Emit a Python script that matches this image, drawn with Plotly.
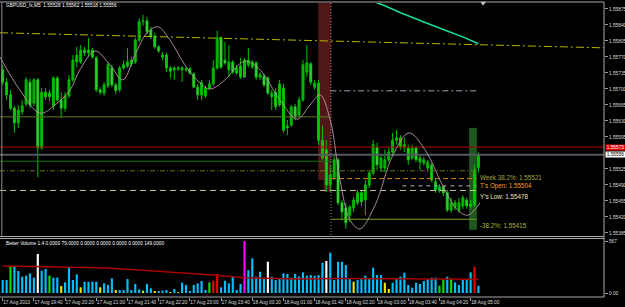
import plotly.graph_objects as go

# ---------------- data ----------------
bars = list(range(123))  # M5 bars from 17 Aug 19:00 to 18 Aug 05:10

time_label_bars = [0, 8, 16, 24, 32, 40, 48, 56, 64, 72, 80, 88, 96, 104, 112, 120]
time_labels = ["17 Aug 2010", "17 Aug 19:40", "17 Aug 20:20", "17 Aug 21:00", "17 Aug 21:40",
               "17 Aug 22:20", "17 Aug 23:00", "17 Aug 23:40", "18 Aug 00:20", "18 Aug 01:00",
               "18 Aug 01:40", "18 Aug 02:20", "18 Aug 03:00", "18 Aug 03:40", "18 Aug 04:20",
               "18 Aug 05:00"]

price_ticks = [1.55385, 1.55420, 1.55455, 1.55490, 1.55525, 1.55595, 1.55630, 1.55665,
               1.55700, 1.55735, 1.55770, 1.55805, 1.55840, 1.55875]

open_p = [1.55742, 1.55715, 1.55687, 1.55658, 1.55626, 1.55650, 1.55667, 1.55715, 1.55669, 1.55720,
          1.55571, 1.55693, 1.55683, 1.55663, 1.55724, 1.55676, 1.55658, 1.55685, 1.55720, 1.55759,
          1.55759, 1.55785, 1.55779, 1.55785, 1.55768, 1.55698, 1.55691, 1.55707, 1.55746, 1.55709,
          1.55698, 1.55746, 1.55750, 1.55755, 1.55759, 1.55807, 1.55847, 1.55849, 1.55829, 1.55816,
          1.55792, 1.55770, 1.55774, 1.55746, 1.55742, 1.55746, 1.55742, 1.55742, 1.55744, 1.55733,
          1.55704, 1.55687, 1.55685, 1.55702, 1.55711, 1.55746, 1.55812, 1.55763, 1.55742, 1.55759,
          1.55735, 1.55750, 1.55726, 1.55753, 1.55748, 1.55757, 1.55726, 1.55728, 1.55724, 1.55683,
          1.55693, 1.55665, 1.55702, 1.55615, 1.55621, 1.55661, 1.55643, 1.55676, 1.55737, 1.55755,
          1.55704, 1.55713, 1.55588, 1.55567, 1.55490, 1.55507, 1.55545, 1.55451, 1.55440, 1.55424,
          1.55440, 1.55451, 1.55473, 1.55457, 1.55490, 1.55516, 1.55573, 1.55527, 1.55527, 1.55545,
          1.55562, 1.55588, 1.55593, 1.55573, 1.55571, 1.55549, 1.55571, 1.55540, 1.55538, 1.55527,
          1.55534, 1.55497, 1.55477, 1.55486, 1.55473, 1.55435, 1.55442, 1.55435, 1.55444, 1.55457,
          1.55448, 1.55446, 1.55528]
high_p = [1.55753, 1.55724, 1.55698, 1.55663, 1.55665, 1.55676, 1.55726, 1.55722, 1.55724, 1.55724,
          1.55702, 1.55702, 1.55698, 1.55728, 1.55728, 1.55693, 1.55693, 1.55731, 1.55774, 1.55792,
          1.55796, 1.55792, 1.55812, 1.55790, 1.55772, 1.55704, 1.55715, 1.55759, 1.55753, 1.55713,
          1.55750, 1.55763, 1.55790, 1.55770, 1.55812, 1.55855, 1.55862, 1.55858, 1.55836, 1.55823,
          1.55796, 1.55781, 1.55779, 1.55750, 1.55750, 1.55750, 1.55750, 1.55748, 1.55748, 1.55737,
          1.55711, 1.55720, 1.55707, 1.55720, 1.55763, 1.55827, 1.55816, 1.55803, 1.55796, 1.55763,
          1.55753, 1.55768, 1.55768, 1.55790, 1.55763, 1.55761, 1.55737, 1.55733, 1.55728, 1.55698,
          1.55702, 1.55720, 1.55711, 1.55632, 1.55665, 1.55667, 1.55683, 1.55763, 1.55796, 1.55759,
          1.55720, 1.55720, 1.55621, 1.55588, 1.55534, 1.55556, 1.55549, 1.55457, 1.55451, 1.55446,
          1.55464, 1.55479, 1.55479, 1.55501, 1.55523, 1.55588, 1.55582, 1.55556, 1.55567, 1.55571,
          1.55604, 1.55610, 1.55599, 1.55593, 1.55578, 1.55578, 1.55575, 1.55556, 1.55551, 1.55545,
          1.55538, 1.55505, 1.55492, 1.55490, 1.55479, 1.55462, 1.55457, 1.55462, 1.55468, 1.55462,
          1.55457, 1.55534, 1.55562]
low_p = [1.55709, 1.55676, 1.55654, 1.55604, 1.55615, 1.55643, 1.55663, 1.55658, 1.55663, 1.55507,
         1.55567, 1.55676, 1.55674, 1.55654, 1.55672, 1.55637, 1.55650, 1.55680, 1.55715, 1.55748,
         1.55755, 1.55772, 1.55770, 1.55766, 1.55693, 1.55687, 1.55685, 1.55702, 1.55704, 1.55689,
         1.55693, 1.55742, 1.55746, 1.55748, 1.55755, 1.55803, 1.55838, 1.55820, 1.55809, 1.55788,
         1.55779, 1.55763, 1.55737, 1.55724, 1.55720, 1.55739, 1.55715, 1.55737, 1.55731, 1.55702,
         1.55676, 1.55676, 1.55680, 1.55698, 1.55707, 1.55742, 1.55744, 1.55753, 1.55726, 1.55733,
         1.55731, 1.55722, 1.55724, 1.55748, 1.55744, 1.55720, 1.55720, 1.55704, 1.55687, 1.55654,
         1.55654, 1.55661, 1.55604, 1.55599, 1.55617, 1.55632, 1.55639, 1.55672, 1.55726, 1.55709,
         1.55698, 1.55578, 1.55545, 1.55475, 1.55475, 1.55501, 1.55446, 1.55413, 1.55394, 1.55409,
         1.55431, 1.55446, 1.55444, 1.55424, 1.55483, 1.55512, 1.55523, 1.55518, 1.55518, 1.55540,
         1.55558, 1.55578, 1.55567, 1.55562, 1.55534, 1.55545, 1.55540, 1.55523, 1.55532, 1.55518,
         1.55497, 1.55473, 1.55473, 1.55466, 1.55431, 1.55429, 1.55435, 1.55429, 1.55438, 1.55438,
         1.55438, 1.55442, 1.55518]
close_p = [1.55715, 1.55687, 1.55658, 1.55626, 1.55654, 1.55663, 1.55720, 1.55665, 1.55720, 1.55571,
           1.55693, 1.55683, 1.55691, 1.55724, 1.55676, 1.55658, 1.55685, 1.55720, 1.55763, 1.55774,
           1.55785, 1.55779, 1.55785, 1.55770, 1.55698, 1.55693, 1.55709, 1.55753, 1.55709, 1.55696,
           1.55746, 1.55753, 1.55759, 1.55763, 1.55807, 1.55847, 1.55849, 1.55825, 1.55814, 1.55792,
           1.55783, 1.55774, 1.55746, 1.55739, 1.55746, 1.55744, 1.55746, 1.55744, 1.55735, 1.55704,
           1.55687, 1.55715, 1.55702, 1.55711, 1.55746, 1.55812, 1.55748, 1.55757, 1.55759, 1.55737,
           1.55746, 1.55726, 1.55763, 1.55763, 1.55759, 1.55726, 1.55731, 1.55709, 1.55691, 1.55691,
           1.55661, 1.55711, 1.55610, 1.55619, 1.55661, 1.55639, 1.55676, 1.55753, 1.55757, 1.55715,
           1.55713, 1.55588, 1.55549, 1.55490, 1.55512, 1.55545, 1.55451, 1.55431, 1.55407, 1.55442,
           1.55457, 1.55473, 1.55453, 1.55490, 1.55516, 1.55578, 1.55534, 1.55549, 1.55545, 1.55562,
           1.55588, 1.55593, 1.55573, 1.55578, 1.55545, 1.55571, 1.55545, 1.55549, 1.55545, 1.55540,
           1.55501, 1.55479, 1.55486, 1.55473, 1.55435, 1.55451, 1.55451, 1.55451, 1.55462, 1.55444,
           1.55444, 1.55523, 1.55556]

volume = [142, 142, 287, 284, 240, 178, 189, 214, 167, 425,
          243, 262, 189, 167, 167, 76, 116, 287, 142, 203,
          62, 123, 123, 123, 123, 62, 105, 87, 160, 33,
          33, 33, 153, 33, 98, 40, 25, 98, 51, 15,
          15, 25, 33, 7, 44, 5, 112, 87, 11, 87,
          105, 131, 33, 116, 134, 207, 62, 134, 105, 185,
          33, 98, 567, 250, 378, 178, 232, 160, 341, 178,
          142, 153, 214, 207, 167, 207, 180, 225, 189, 196,
          189, 196, 330, 349, 439, 142, 341, 341, 305, 160,
          123, 142, 160, 189, 160, 276, 196, 196, 112, 44,
          112, 153, 178, 221, 87, 58, 112, 98, 131, 153,
          167, 167, 80, 142, 178, 160, 116, 87, 142, 142,
          225, 287, 79]
# Better Volume bar class: c=normal, y=low, w=climax, g=churn, r=climax up, m=climax churn
volume_class = list("ccgccccccw" "ccgccycccc" "yccccycccy" "ccccccyccy" "cccycycccc"
                    "cccgrrcccc" "ccmcccccwc" "cccccccccc" "cccwcccccc" "ycccccccyy"
                    "cccccccccc" "ccggcgcccc" "crc")

vol_ma_bars = [0, 17, 25, 35, 45, 54, 62, 76, 85, 100, 110, 122]
vol_ma = [294, 287, 276, 251, 225, 196, 167, 153, 158, 152, 149, 149]

curve_bars = [-0.7, 4.4, 9.6, 13.4, 17.3, 19.8, 23.7, 27.5, 30.8, 33.9, 37.0, 39.8, 42.9, 46.7,
              50.6, 53.2, 57.0, 60.8, 62.6, 66.0, 71.1, 75.5, 78.8, 81.4, 84.0, 86.5, 89.1,
              91.6, 95.5, 100.1, 104.2, 108.3, 113.4, 116.7, 119.3, 122.4]
curve_price = [1.55770, 1.55698, 1.55647, 1.55665, 1.55698, 1.55742, 1.55783, 1.55753, 1.55720,
               1.55774, 1.55823, 1.55836, 1.55807, 1.55753, 1.55713, 1.55700, 1.55720, 1.55755,
               1.55761, 1.55742, 1.55676, 1.55634, 1.55665, 1.55687, 1.55632, 1.55501, 1.55413,
               1.55394, 1.55446, 1.55556, 1.55604, 1.55567, 1.55479, 1.55435, 1.55424, 1.55451]

ma_bars = [94, 98, 102, 106, 110, 114, 118, 122]
ma_price = [1.55895, 1.55882, 1.55867, 1.55853, 1.55840, 1.55827, 1.55814, 1.55799]

trend_bars = [-0.69, 154.2]
trend_price = [1.55823, 1.55790]

ask_price = 1.55573
bid_price = 1.55556
olive_level = 1.55639
green_level = 1.55542
gray_level = 1.55696
week_382 = 1.55521
t_open = 1.55504
lavender_level = 1.55488
y_low = 1.55478
neg_382 = 1.55415
red_box_low = 1.55501
red_box_low2 = 1.55475
green_box = [1.55392, 1.55615]

assert len(open_p) == len(high_p) == len(low_p) == len(close_p) == len(volume) == len(volume_class) == 123

# ---------------- figure ----------------
XR = [-0.69, 154.2]
YR = [1.553806, 1.558881]
FONT = "Liberation Sans"
WICK = "#00c000"

fig = go.Figure()

# background boxes
fig.add_shape(type="rect", xref="x", yref="y", x0=80.9, x1=84.2, y0=red_box_low, y1=YR[1],
              fillcolor="#4f1717", line_width=0, layer="below")
fig.add_shape(type="rect", xref="x", yref="y", x0=82.3, x1=84.2, y0=red_box_low2, y1=red_box_low,
              fillcolor="#4f1717", line_width=0, layer="below")
fig.add_shape(type="rect", xref="x", yref="y", x0=119.6, x1=121.6, y0=green_box[0], y1=green_box[1],
              fillcolor="#1d571d", line_width=0, layer="below")
fig.add_shape(type="line", xref="x", yref="y", x0=84.2, x1=84.2, y0=YR[0], y1=YR[1],
              line=dict(color="#8c8c8c", width=1, dash="1px,2px"), layer="below")

def hline(y, x0, x1, color, dash="solid", width=1):
    fig.add_trace(go.Scatter(x=[x0, x1], y=[y, y], mode="lines", xaxis="x", yaxis="y",
                             line=dict(color=color, width=width, dash=dash),
                             hoverinfo="skip", showlegend=False))

# candles: wicks then bodies
wx, wy = [], []
for i, h, l in zip(bars, high_p, low_p):
    wx += [i, i, None]
    wy += [l, h, None]
fig.add_trace(go.Scatter(x=wx, y=wy, mode="lines", xaxis="x", yaxis="y",
                         line=dict(color=WICK, width=1), hoverinfo="skip", showlegend=False))
body_base = [min(o, c) for o, c in zip(open_p, close_p)]
body_len = [max(abs(c - o), 0.000004) for o, c in zip(open_p, close_p)]
body_fill = ["#008a00" if c > o else "#ffffff" for o, c in zip(open_p, close_p)]
fig.add_trace(go.Bar(x=bars, y=body_len, base=body_base, width=0.5, xaxis="x", yaxis="y",
                     marker=dict(color=body_fill, line=dict(color=WICK, width=1)),
                     hoverinfo="skip", showlegend=False))

# level lines
hline(olive_level, XR[0], 84.0, "#5e7a1e")
hline(green_level, XR[0], 84.5, "#147814")
hline(gray_level, 84.0, 122.2, "#8fa3b3", "6px,3px,2px,3px")
hline(week_382, XR[0], 121.4, "#6b7020", "5px,2px,1px,2px")
hline(t_open, 84.2, 121.6, "#d97b00", "5px,3px")
hline(lavender_level, 102.5, 121.5, "#b8a8c8", "4px,4px")
hline(y_low, XR[0], 121.6, "#c8c09a", "6px,4px")
hline(neg_382, 84.2, 121.6, "#7d9a1e")
hline(ask_price, XR[0], XR[1], "#b00000")
hline(bid_price, XR[0], XR[1], "#555a62", width=2)

# sloped dash-dot line
fig.add_trace(go.Scatter(x=trend_bars, y=trend_price, mode="lines", xaxis="x", yaxis="y",
                         line=dict(color="#b8b800", width=1, dash="8px,3px,2px,3px"),
                         hoverinfo="skip", showlegend=False))
# moving average
fig.add_trace(go.Scatter(x=ma_bars, y=ma_price, mode="lines", xaxis="x", yaxis="y",
                         line=dict(color="#19d9a2", width=1.6), hoverinfo="skip", showlegend=False))
# smoothed curve
fig.add_trace(go.Scatter(x=curve_bars, y=curve_price, mode="lines", xaxis="x", yaxis="y",
                         line=dict(color="#b496a6", width=0.9, shape="spline", smoothing=1.0),
                         hoverinfo="skip", showlegend=False))
# chart shift marker
fig.add_trace(go.Scatter(x=[123.2], y=[YR[1]], mode="markers", xaxis="x", yaxis="y",
                         marker=dict(symbol="triangle-down", size=5, color="#d0d0d0"),
                         cliponaxis=False, hoverinfo="skip", showlegend=False))

# volume
vcolors = {"c": "#00bfff", "y": "#e6e600", "w": "#ffffff", "g": "#00e000", "r": "#ee0000", "m": "#ff00ff"}
fig.add_trace(go.Bar(x=bars, y=volume, width=0.55, xaxis="x2", yaxis="y2",
                     marker=dict(color=[vcolors[c] for c in volume_class], line_width=0),
                     hoverinfo="skip", showlegend=False))
fig.add_trace(go.Scatter(x=vol_ma_bars, y=vol_ma, mode="lines", xaxis="x2", yaxis="y2",
                         line=dict(color="#a80000", width=1.5), hoverinfo="skip", showlegend=False))

# frame lines (paper coords)
frame = "#a8a8a8"
for y in (1.0, 0.0, 0.20508, 0.19831):
    fig.add_shape(type="line", xref="paper", yref="paper", x0=0, x1=1, y0=y, y1=y,
                  line=dict(color=frame, width=1))
fig.add_shape(type="line", xref="paper", yref="paper", x0=1, x1=1, y0=0, y1=1,
              line=dict(color=frame, width=1))
fig.add_shape(type="line", xref="paper", yref="paper", x0=0.003, x1=0.003, y0=0.205, y1=1,
              line=dict(color="#8a8a8a", width=1))

axis_font = dict(family=FONT, size=4.8, color="#dcdcdc")
fig.update_layout(
    width=625, height=307, margin=dict(l=0, r=21, t=2, b=10, autoexpand=False),
    paper_bgcolor="black", plot_bgcolor="black", showlegend=False, barmode="overlay",
    xaxis=dict(domain=[0, 1], range=XR, anchor="y", visible=False),
    xaxis2=dict(domain=[0, 1], range=XR, anchor="y2", tickmode="array",
                tickvals=time_label_bars, ticktext=time_labels, ticks="outside", ticklen=3,
                tickcolor="#a0a0a0", tickfont=axis_font, ticklabelposition="outside right",
                tickangle=0, automargin=False,
                showgrid=False, zeroline=False, showline=False),
    yaxis=dict(domain=[0.21017, 0.99661], range=YR, anchor="x", side="right", tickmode="array",
               tickvals=price_ticks, ticktext=[f"{v:.5f}" for v in price_ticks],
               ticks="outside", ticklen=3, tickcolor="#a0a0a0", tickfont=axis_font,
               automargin=False, showgrid=False, zeroline=False, showline=False),
    yaxis2=dict(domain=[0, 0.18983], range=[-43.6, 567], anchor="x2", side="right",
                tickmode="array", tickvals=[0, 567], ticktext=["0.00", "567"],
                ticks="outside", ticklen=3, tickcolor="#a0a0a0", tickfont=axis_font,
                automargin=False, showgrid=False, zeroline=False, showline=False),
)

ann = []
ann.append(dict(xref="paper", yref="paper", x=0.0066, y=0.9888, xanchor="left", yanchor="middle",
                text="GBPUSD_fx,M5  1.55528 1.55562 1.55518 1.55556", showarrow=False,
                font=dict(family=FONT, size=4.8, color="#ffffff")))
ann.append(dict(xref="paper", yref="paper", x=0.0066, y=0.182, xanchor="left", yanchor="middle",
                text="Better Volume 1.4 0.0000 79.0000 0.0000 0.0000 0.0000 0.0000 149.0000",
                showarrow=False, font=dict(family=FONT, size=4.8, color="#ffffff")))
lab_font = 6.3
for y, txt, col in [(week_382, "Week 38.2%: 1.55521", "#a2a23a"),
                    (t_open, "T's Open: 1.55504", "#ff9a1a"),
                    (y_low, "Y's Low: 1.55478", "#ece4b4"),
                    (neg_382, "-38.2%: 1.55415", "#a8b43a")]:
    ann.append(dict(xref="x", yref="y", x=121.9, y=y, xanchor="left", yanchor="top", yshift=-1,
                    text=txt, showarrow=False, font=dict(family=FONT, size=lab_font, color=col)))
ann.append(dict(xref="paper", yref="y", x=1.0, y=ask_price, xanchor="left", yanchor="middle",
                xshift=1, text="1.55573", showarrow=False, bgcolor="#e00000", borderpad=0,
                width=19, height=5, font=dict(family=FONT, size=4.8, color="#ffffff")))
ann.append(dict(xref="paper", yref="y", x=1.0, y=bid_price, xanchor="left", yanchor="middle",
                xshift=1, text="1.55556", showarrow=False, bgcolor="#ffffff", borderpad=0,
                width=19, height=5, font=dict(family=FONT, size=4.8, color="#000000")))
fig.update_layout(annotations=ann)

fig.write_html("out.html")
